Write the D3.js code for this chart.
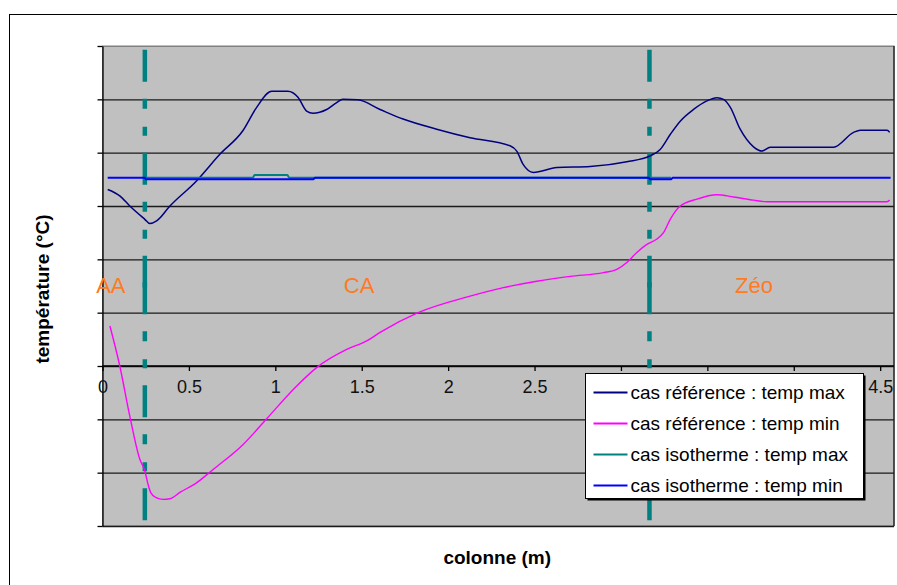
<!DOCTYPE html>
<html>
<head>
<meta charset="utf-8">
<script src="https://cdn.jsdelivr.net/npm/d3@7"></script>
<style>
    body { margin: 0; background: #fff; }
    svg text { font-family: "Liberation Sans", Arial, sans-serif; }
</style>
</head>
<body>
<svg id="chart" width="897" height="585"></svg>
<script>

// x positions (m) and temperatures
var refMaxX = [0.03, 0.10, 0.158, 0.245, 0.274, 0.313, 0.39, 0.544, 0.679, 0.812, 0.892, 0.979, 1.073, 1.131, 1.181, 1.218,
    1.297, 1.355, 1.391, 1.478, 1.606, 1.739, 1.934, 2.127, 2.358, 2.397, 2.434, 2.493, 2.629, 2.822, 3.034, 3.169,
    3.227, 3.285, 3.343, 3.42, 3.497, 3.555, 3.594, 3.633, 3.69, 3.767, 3.816, 3.864, 4.23, 4.346, 4.385, 4.54, 4.555];
var refMax = [3.31, 3.19, 3.00, 2.75, 2.67, 2.72, 3.00, 3.47, 3.97, 4.41, 4.85, 5.15, 5.15, 5.04, 4.78, 4.74,
    4.81, 4.94, 5.00, 4.99, 4.81, 4.63, 4.44, 4.28, 4.13, 4.03, 3.78, 3.63, 3.72, 3.74, 3.83, 3.94,
    4.06, 4.34, 4.59, 4.81, 4.97, 5.03, 5.00, 4.85, 4.44, 4.11, 4.03, 4.10, 4.10, 4.38, 4.42, 4.42, 4.38];

var refMinX = [0.043, 0.10, 0.158, 0.216, 0.245, 0.262, 0.28, 0.31, 0.35, 0.39, 0.448, 0.544, 0.64, 0.814, 0.95, 1.104, 1.239,
    1.413, 1.529, 1.606, 1.826, 2.127, 2.32, 2.513, 2.706, 2.899, 2.976, 3.034, 3.092, 3.15, 3.208, 3.246,
    3.285, 3.343, 3.44, 3.555, 3.651, 3.767, 3.845, 4.54, 4.555];
var refMin = [0.75, 0.0, -0.94, -1.75, -1.97, -2.2, -2.38, -2.47, -2.50, -2.49, -2.37, -2.19, -1.94, -1.47, -0.99, -0.44, -0.03,
    0.31, 0.47, 0.63, 1.00, 1.31, 1.47, 1.59, 1.68, 1.75, 1.81, 1.94, 2.13, 2.28, 2.38, 2.50,
    2.75, 3.00, 3.13, 3.21, 3.17, 3.11, 3.08, 3.08, 3.11];

var isoMaxX = [0.245, 0.87, 0.88, 1.07, 1.08, 3.17, 3.29];
var isoMax = [3.53, 3.53, 3.58, 3.58, 3.53, 3.53, 3.53];

var isoMinX = [0.03, 0.245, 0.25, 1.22, 1.23, 3.16, 3.17, 3.29, 3.30, 4.56];
var isoMin = [3.53, 3.53, 3.50, 3.50, 3.53, 3.53, 3.50, 3.50, 3.53, 3.53];

var seriesNames = ["cas référence : temp max", "cas référence : temp min",
    "cas isotherme : temp max", "cas isotherme : temp min"];

// labels 3 to 4 sit under the legend box in the original
var xTicks = [0, 0.5, 1, 1.5, 2, 2.5, 3, 3.5, 4, 4.5];
var xTickLabels = ["0", "0.5", "1", "1.5", "2", "2.5", "", "", "", "4.5"];
var yGrid = [-3, -2, -1, 0, 1, 2, 3, 4, 5, 6];

// zone boundaries and zone names
var dividers = [0.245, 3.165];
var dividerParts = [[5.93, 1.47], [1.57, -2.9]];
var zoneNames = ["AA", "CA", "Zéo"];
var zoneX = [0.048, 1.485, 3.77];
var zoneY = 1.36;

var svg = d3.select("#chart"),
    margin = {top: 46, right: 3, bottom: 59, left: 102.5},
    width = +svg.attr("width") - margin.left - margin.right,
    height = +svg.attr("height") - margin.top - margin.bottom;

// outer chart frame
svg.append("rect")
    .attr("x", 9.5).attr("y", 14.5)
    .attr("width", 920).attr("height", 620)
    .attr("fill", "#fff")
    .attr("stroke", "#000");

var x = d3.scaleLinear().domain([0, 4.58]).range([0, width]),
    y = d3.scaleLinear().domain([-3, 6]).range([height, 0]);

var g = svg.append("g")
    .attr("transform", "translate(" + margin.left + "," + margin.top + ")");

g.append("rect")
    .attr("width", width).attr("height", height)
    .attr("fill", "#c0c0c0")
    .attr("stroke", "#808080");

// horizontal gridlines
g.append("g")
    .attr("class", "grid")
    .call(d3.axisLeft(y).tickValues(yGrid).tickSize(-width).tickFormat(""))
    .call(function (s) {
        s.select(".domain").remove();
        s.selectAll(".tick line").attr("stroke", "#1a1a1a").attr("stroke-width", 1.3)
            .filter(function (d) { return d === 6; }).attr("stroke", "#808080").attr("stroke-width", 1);
    });

// right edge of the plot
g.append("line")
    .attr("x1", width).attr("x2", width)
    .attr("y1", 0).attr("y2", height)
    .attr("stroke", "#1a1a1a").attr("stroke-width", 1.3);

// y axis with outer ticks only, no labels
g.append("g")
    .attr("class", "axis axis--y")
    .call(d3.axisLeft(y).tickValues(yGrid).tickSize(5).tickSizeOuter(0).tickFormat(""))
    .call(function (s) {
        s.select(".domain").attr("stroke", "#000").attr("stroke-width", 1.3);
        s.selectAll(".tick line").attr("stroke", "#000").attr("stroke-width", 1.3);
    });

// x axis at 0
g.append("g")
    .attr("class", "axis axis--x")
    .attr("transform", "translate(0," + y(0) + ")")
    .call(d3.axisBottom(x).tickValues(xTicks).tickSize(5).tickSizeOuter(0)
        .tickFormat(function (d, i) { return xTickLabels[i]; }))
    .call(function (s) {
        s.select(".domain").attr("stroke", "#000").attr("stroke-width", 1.3).attr("d", "M0,0H" + width);
        s.selectAll(".tick line").attr("stroke", "#000").attr("stroke-width", 1.3);
        s.selectAll(".tick text")
            .attr("y", 14)
            .attr("fill", "#111")
            .style("font-family", "'Liberation Sans', Arial, sans-serif")
            .style("font-size", "18px");
    });

// dashed zone dividers
dividers.forEach(function (dx) {
    dividerParts.forEach(function (p) {
        g.append("line")
            .attr("x1", x(dx)).attr("x2", x(dx))
            .attr("y1", y(p[0])).attr("y2", y(p[1]))
            .attr("stroke", "#008080")
            .attr("stroke-width", 4.5)
            .attr("stroke-dasharray", "32,17,10,18,9,17");
    });
});

// zone names
g.selectAll(".zone")
    .data(zoneNames)
    .enter().append("text")
    .attr("class", "zone")
    .attr("x", function (d, i) { return x(zoneX[i]); })
    .attr("y", y(zoneY))
    .attr("text-anchor", "middle")
    .attr("fill", "#ff7a22")
    .style("font-size", "22px")
    .text(function (d) { return d; });

var series = [
    {xs: refMaxX, ys: refMax, color: "#000080", w: 1.5},
    {xs: refMinX, ys: refMin, color: "#ff00ff", w: 1.4},
    {xs: isoMaxX, ys: isoMax, color: "#008080", w: 2},
    {xs: isoMinX, ys: isoMin, color: "#0000ff", w: 2}
];

var line = d3.line()
    .x(function (d) { return x(d[0]); })
    .y(function (d) { return y(d[1]); })
    .curve(d3.curveMonotoneX);

series.forEach(function (s) {
    g.append("path")
        .datum(d3.zip(s.xs, s.ys))
        .attr("class", "line")
        .attr("fill", "none")
        .attr("stroke", s.color)
        .attr("stroke-width", s.w)
        .attr("d", line);
});

// legend
var legend = svg.append("g")
    .attr("transform", "translate(585.5,373.5)");

legend.append("rect")
    .attr("x", 2).attr("y", 2)
    .attr("width", 278).attr("height", 125)
    .attr("fill", "#000");

legend.append("rect")
    .attr("width", 278).attr("height", 125)
    .attr("fill", "#fff")
    .attr("stroke", "#000");

var item = legend.selectAll(".item")
    .data(seriesNames)
    .enter().append("g")
    .attr("class", "item")
    .attr("transform", function (d, i) { return "translate(0," + (19 + i * 31) + ")"; });

item.append("line")
    .attr("x1", 8).attr("x2", 42)
    .attr("stroke", function (d, i) { return series[i].color; })
    .attr("stroke-width", 2);

item.append("text")
    .attr("x", 45)
    .attr("y", 6.5)
    .attr("fill", "#000")
    .style("font-size", "19px")
    .text(function (d) { return d; });

// axis titles
svg.append("text")
    .attr("x", margin.left + width / 2 - 1)
    .attr("y", 564)
    .attr("text-anchor", "middle")
    .style("font-size", "19px")
    .style("font-weight", "bold")
    .text("colonne (m)");

svg.append("text")
    .attr("transform", "translate(49,289) rotate(-90)")
    .attr("text-anchor", "middle")
    .style("font-size", "19px")
    .style("font-weight", "bold")
    .text("température (°C)");

</script>
</body>
</html>
